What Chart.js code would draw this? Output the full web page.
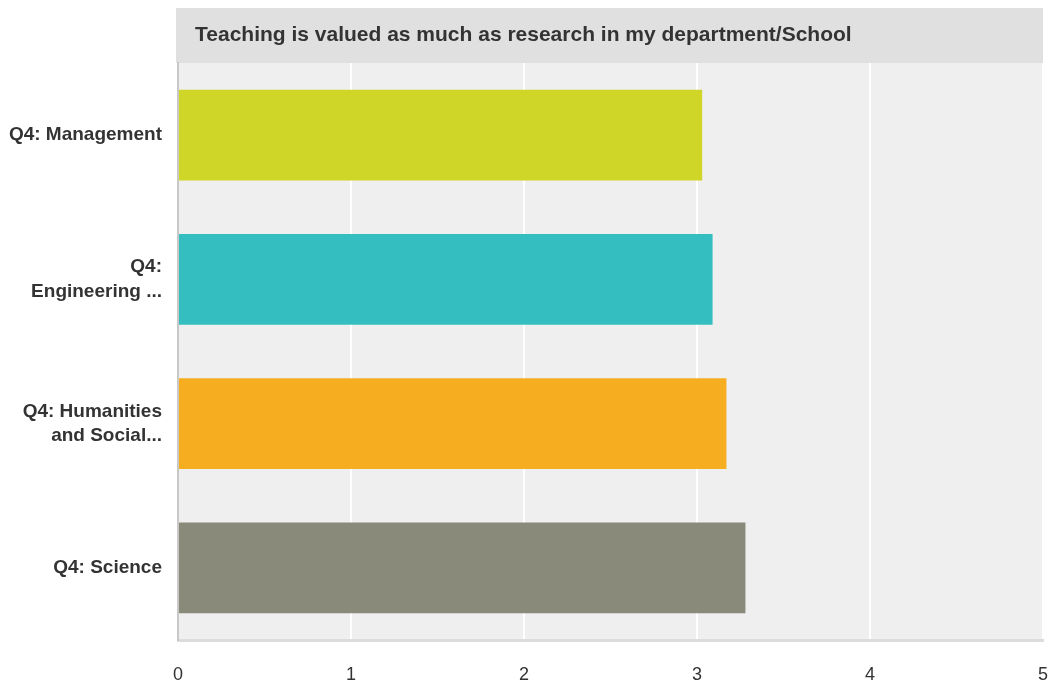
<!DOCTYPE html>
<html>
<head>
<meta charset="utf-8">
<script src="https://cdn.jsdelivr.net/npm/chart.js@4/dist/chart.umd.min.js"></script>
<style>
  html, body { margin: 0; padding: 0; background: #fff; }
  #wrap { width: 1050px; height: 688px; }
</style>
</head>
<body>
<div id="wrap"><canvas id="c" width="1050" height="688"></canvas></div>
<script>
var chartTitle = 'Teaching is valued as much as research in my department/School';
var categories = [
  'Q4: Management',
  ['Q4:', 'Engineering ...'],
  ['Q4: Humanities', 'and Social...'],
  'Q4: Science'
];
var values = [3.03, 3.09, 3.17, 3.28];
var barColors = ['#d0d628', '#34bec0', '#f6ae20', '#898a79'];
var xTicks = [0, 1, 2, 3, 4, 5];

// plot background + grey title band
var bandPlugin = {
  id: 'band',
  beforeDraw: function(chart) {
    var ctx = chart.ctx, a = chart.chartArea;
    ctx.save();
    ctx.fillStyle = '#efefef';
    ctx.fillRect(a.left, a.top, a.right - a.left, a.bottom - a.top);
    ctx.fillStyle = '#e0e0e0';
    ctx.fillRect(a.left - 2, 8, a.right - a.left + 2, a.top - 8);
    ctx.fillStyle = '#333333';
    ctx.font = 'bold 21px "Liberation Sans", Arial, sans-serif';
    ctx.textBaseline = 'middle';
    ctx.textAlign = 'left';
    ctx.fillText(chartTitle, a.left + 17, 35);
    ctx.restore();
  }
};

new Chart(document.getElementById('c'), {
  type: 'bar',
  data: {
    labels: categories,
    datasets: [{
      data: values,
      backgroundColor: barColors,
      barPercentage: 0.63,
      categoryPercentage: 1
    }]
  },
  plugins: [bandPlugin],
  options: {
    indexAxis: 'y',
    responsive: false,
    animation: false,
    layout: { padding: { top: 63, right: 7, left: 0, bottom: 0 } },
    plugins: {
      legend: { display: false },
      tooltip: { enabled: false },
      title: { display: false }
    },
    scales: {
      x: {
        min: 0,
        max: 5,
        afterBuildTicks: function(s) { s.ticks = xTicks.map(function(v) { return { value: v }; }); },
        afterFit: function(s) { s.height = 48; s.paddingLeft = 0; s.paddingRight = 0; },
        grid: { color: '#ffffff', lineWidth: 2, drawTicks: false },
        border: { color: '#dcdcdc', width: 3 },
        ticks: {
          color: '#333333',
          padding: 24,
          font: { family: '"Liberation Sans", Arial, sans-serif', size: 18 }
        }
      },
      y: {
        afterFit: function(s) { s.width = 178; },
        grid: { display: false, drawTicks: false },
        border: { color: '#c8c8c8', width: 2 },
        ticks: {
          color: '#333333',
          padding: 16,
          font: { family: '"Liberation Sans", Arial, sans-serif', size: 19, weight: 'bold', lineHeight: 1.3 }
        }
      }
    }
  }
});
</script>
</body>
</html>
